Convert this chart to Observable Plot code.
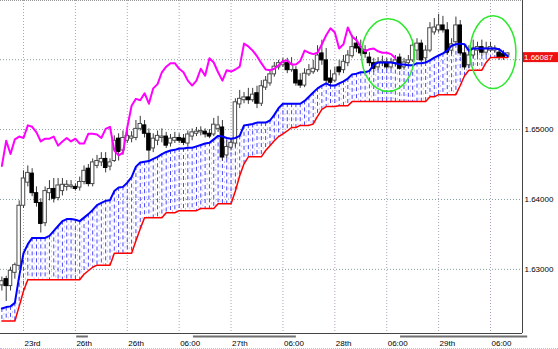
<!DOCTYPE html>
<html><head><meta charset="utf-8">
<script src="https://cdn.jsdelivr.net/npm/d3@7"></script>
<script src="https://cdn.jsdelivr.net/npm/@observablehq/plot@0.6"></script>
<style>
html,body{margin:0;padding:0;background:#fff;}
#chart{width:558px;height:348px;border-bottom:1px dotted #c9b6e8;overflow:hidden;}
svg{display:block;}
</style></head><body><div id="chart"></div>
<script>
// OHLC per bar (bar index = position in array)
const opens = [1.6277,1.6286,1.6276,1.6295,1.6305,1.6391,1.6424,1.6437,1.6409,1.6395,
1.6366,1.6409,1.6415,1.6402,1.6412,1.6418,1.6418,1.6418,1.6417,1.6425,
1.6444,1.6422,1.6448,1.6453,1.6458,1.6447,1.6455,1.6487,1.6470,1.6484,
1.6487,1.6488,1.6501,1.6506,1.6494,1.6473,1.6484,1.6488,1.6490,1.6480,
1.6484,1.6488,1.6487,1.6480,1.6490,1.6494,1.6496,1.6497,1.6494,1.6493,
1.6501,1.6503,1.6463,1.6474,1.6480,1.6536,1.6542,1.6546,1.6542,1.6552,
1.6537,1.6560,1.6566,1.6579,1.6589,1.6592,1.6595,1.6585,1.6585,1.6570,
1.6563,1.6579,1.6582,1.6585,1.6609,1.6599,1.6573,1.6570,1.6589,1.6585,
1.6595,1.6605,1.6623,1.6618,1.6613,1.6603,1.6595,1.6589,1.6595,1.6596,
1.6589,1.6595,1.6603,1.6589,1.6595,1.6599,1.6613,1.6623,1.6602,1.6613,
1.6639,1.6642,1.6649,1.6642,1.6613,1.6625,1.6649,1.6609,1.6592,1.6606,
1.6613,1.6618,1.6610,1.6613,1.6613,1.6610,1.6608,1.6606];
const closes = [1.6283,1.6276,1.6298,1.6306,1.6391,1.6430,1.6438,1.6409,1.6395,1.6365,
1.6412,1.6415,1.6401,1.6420,1.6421,1.6421,1.6420,1.6415,1.6425,1.6441,
1.6422,1.6453,1.6455,1.6458,1.6445,1.6453,1.6484,1.6468,1.6488,1.6491,
1.6490,1.6501,1.6508,1.6494,1.6470,1.6487,1.6491,1.6490,1.6477,1.6487,
1.6488,1.6484,1.6481,1.6493,1.6496,1.6497,1.6498,1.6493,1.6490,1.6507,
1.6506,1.6460,1.6475,1.6481,1.6539,1.6544,1.6546,1.6542,1.6550,1.6537,
1.6562,1.6570,1.6579,1.6590,1.6595,1.6595,1.6585,1.6593,1.6566,1.6563,
1.6580,1.6585,1.6587,1.6606,1.6599,1.6570,1.6567,1.6579,1.6582,1.6597,
1.6606,1.6618,1.6616,1.6609,1.6608,1.6595,1.6587,1.6596,1.6597,1.6589,
1.6596,1.6599,1.6587,1.6596,1.6599,1.6620,1.6623,1.6599,1.6613,1.6645,
1.6646,1.6649,1.6642,1.6610,1.6622,1.6649,1.6609,1.6589,1.6606,1.6616,
1.6618,1.6610,1.6616,1.6618,1.6616,1.6603,1.6603,1.6609];
const highs = [1.6289,1.6290,1.6303,1.6309,1.6398,1.6441,1.6448,1.6444,1.6418,1.6401,
1.6418,1.6427,1.6430,1.6430,1.6430,1.6427,1.6427,1.6422,1.6432,1.6448,
1.6450,1.6458,1.6463,1.6467,1.6467,1.6458,1.6491,1.6494,1.6498,1.6501,
1.6497,1.6513,1.6519,1.6513,1.6501,1.6494,1.6498,1.6501,1.6496,1.6493,
1.6496,1.6494,1.6493,1.6498,1.6501,1.6503,1.6504,1.6501,1.6500,1.6516,
1.6519,1.6513,1.6484,1.6487,1.6544,1.6556,1.6553,1.6559,1.6559,1.6562,
1.6570,1.6576,1.6585,1.6596,1.6599,1.6602,1.6602,1.6603,1.6590,1.6580,
1.6587,1.6593,1.6599,1.6620,1.6628,1.6616,1.6585,1.6589,1.6599,1.6606,
1.6613,1.6635,1.6633,1.6628,1.6620,1.6610,1.6602,1.6603,1.6605,1.6602,
1.6602,1.6606,1.6608,1.6602,1.6606,1.6628,1.6630,1.6628,1.6620,1.6653,
1.6659,1.6665,1.6662,1.6653,1.6630,1.6661,1.6656,1.6620,1.6620,1.6628,
1.6625,1.6628,1.6625,1.6625,1.6620,1.6616,1.6613,1.6610];
const lows = [1.6269,1.6254,1.6269,1.6286,1.6300,1.6387,1.6418,1.6404,1.6389,1.6352,
1.6361,1.6398,1.6395,1.6398,1.6405,1.6412,1.6415,1.6412,1.6412,1.6421,
1.6418,1.6418,1.6444,1.6447,1.6438,1.6441,1.6453,1.6455,1.6463,1.6480,
1.6481,1.6484,1.6498,1.6488,1.6455,1.6467,1.6477,1.6481,1.6473,1.6475,
1.6480,1.6480,1.6477,1.6475,1.6484,1.6490,1.6491,1.6488,1.6487,1.6490,
1.6496,1.6455,1.6458,1.6470,1.6475,1.6530,1.6537,1.6536,1.6539,1.6530,
1.6533,1.6556,1.6562,1.6575,1.6585,1.6589,1.6580,1.6582,1.6562,1.6559,
1.6560,1.6576,1.6579,1.6582,1.6592,1.6566,1.6563,1.6567,1.6577,1.6580,
1.6590,1.6602,1.6610,1.6605,1.6602,1.6590,1.6582,1.6585,1.6590,1.6586,
1.6586,1.6590,1.6585,1.6585,1.6590,1.6596,1.6599,1.6596,1.6596,1.6610,
1.6635,1.6638,1.6638,1.6606,1.6608,1.6622,1.6605,1.6585,1.6587,1.6602,
1.6606,1.6605,1.6606,1.6610,1.6609,1.6599,1.6599,1.6602];
// Blue cloud edge (Senkou Span A)
const spanA = [1.6244,1.6246,1.6247,1.6252,1.6290,1.6323,1.6336,1.6345,1.6345,1.6345,
1.6345,1.6348,1.6355,1.6362,1.6369,1.6372,1.6372,1.6371,1.6369,1.6374,
1.6379,1.6385,1.6392,1.6395,1.6398,1.6399,1.6412,1.6417,1.6418,1.6424,
1.6432,1.6447,1.6453,1.6454,1.6455,1.6458,1.6461,1.6465,1.6468,1.6470,
1.6471,1.6473,1.6473,1.6474,1.6474,1.6476,1.6478,1.6480,1.6481,1.6486,
1.6491,1.6490,1.6488,1.6487,1.6488,1.6491,1.6506,1.6507,1.6508,1.6510,
1.6510,1.6510,1.6513,1.6521,1.6531,1.6537,1.6537,1.6537,1.6537,1.6537,
1.6541,1.6547,1.6553,1.6559,1.6563,1.6566,1.6563,1.6563,1.6566,1.6569,
1.6573,1.6579,1.6580,1.6582,1.6582,1.6584,1.6593,1.6596,1.6596,1.6596,
1.6596,1.6595,1.6593,1.6593,1.6592,1.6592,1.6595,1.6595,1.6596,1.6599,
1.6603,1.6606,1.6609,1.6613,1.6620,1.6622,1.6623,1.6622,1.6613,1.6616,
1.6616,1.6616,1.6616,1.6616,1.6616,1.6615,1.6610,1.6605];
// Red cloud edge (Senkou Span B)
const spanB = [1.6226,1.6226,1.6226,1.6226,1.6247,1.6269,1.6285,1.6285,1.6285,1.6285,
1.6285,1.6285,1.6285,1.6285,1.6285,1.6285,1.6285,1.6285,1.6285,1.6293,
1.6298,1.6303,1.6306,1.6306,1.6306,1.6306,1.6323,1.6323,1.6323,1.6323,
1.6323,1.6341,1.6358,1.6374,1.6374,1.6374,1.6374,1.6374,1.6381,1.6381,
1.6381,1.6384,1.6384,1.6384,1.6384,1.6384,1.6387,1.6387,1.6387,1.6387,
1.6394,1.6394,1.6394,1.6394,1.6412,1.6434,1.6451,1.6461,1.6461,1.6461,
1.6461,1.6470,1.6477,1.6484,1.6490,1.6494,1.6498,1.6503,1.6503,1.6506,
1.6506,1.6506,1.6508,1.6519,1.6529,1.6533,1.6533,1.6533,1.6534,1.6534,
1.6534,1.6540,1.6540,1.6540,1.6540,1.6540,1.6540,1.6540,1.6540,1.6540,
1.6540,1.6540,1.6540,1.6540,1.6540,1.6540,1.6540,1.6540,1.6540,1.6547,
1.6547,1.6550,1.6550,1.6550,1.6550,1.6550,1.6563,1.6577,1.6585,1.6585,
1.6585,1.6585,1.6596,1.6603,1.6603,1.6603,1.6603,1.6603];
// Magenta lagging line (Chikou Span)
const chikou = [1.6448,1.6484,1.6465,1.6486,1.6490,1.6488,1.6506,1.6504,1.6496,1.6483,
1.6487,1.6487,1.6490,1.6477,1.6483,1.6488,1.6483,1.6487,1.6480,1.6480,
1.6494,1.6494,1.6493,1.6488,1.6501,1.6504,1.6470,1.6463,1.6467,1.6503,
1.6534,1.6544,1.6542,1.6552,1.6537,1.6559,1.6565,1.6582,1.6590,1.6595,
1.6595,1.6587,1.6582,1.6570,1.6563,1.6570,1.6587,1.6577,1.6602,1.6596,
1.6582,1.6570,1.6585,1.6583,1.6586,1.6590,1.6623,1.6619,1.6613,1.6605,
1.6595,1.6586,1.6585,1.6587,1.6592,1.6598,1.6599,1.6593,1.6593,1.6598,
1.6613,1.6610,1.6608,1.6610,1.6622,1.6635,1.6645,1.6639,1.6616,1.6622,
1.6646,1.6633,1.6628,1.6618,1.6612,1.6615,1.6616,1.6612,1.6610,1.6610,
1.6608,1.6602];
const xTickBars = [5,17,29,41,53,65,77,89,101,113];
const xTickLabels = ["23rd","26th","26th","06:00","27th","06:00","28th","06:00","29th","06:00"];
const yGrid = [1.63,1.64,1.65,1.66];
const yLabels = [1.63,1.64,1.65];
const lastPrice = 1.66087;
const circleCenters = [{bar:89.4, price:1.6606, rBars:6.1, rPrice:0.0052},{bar:113.7, price:1.6610, rBars:5.3, rPrice:0.0052}];
const scrollMarks = [{x1:17.3,x2:20.0},{x1:44.3,x2:68.1},{x1:92.2,x2:121.6}];

const X0 = -0.32, X1 = 120.4, Y0 = 1.62082, Y1 = 1.66847;
const FONT = "'Liberation Sans', Arial, sans-serif";
const bars = opens.map((o,i)=>({i, o, c:closes[i], h:highs[i], l:lows[i]}));
const cloud = spanA.map((a,i)=>({i, a, b:spanB[i]}));
const lag = chikou.map((v,i)=>({i, v}));
const ticks = xTickBars.map((b,k)=>({b, label:xTickLabels[k]}));
const up = bars.filter(d=>d.c>=d.o), down = bars.filter(d=>d.c<d.o);

const chart = Plot.plot({
  width:558, height:348, marginLeft:0, marginRight:36, marginTop:0, marginBottom:15,
  x:{domain:[X0,X1], axis:null},
  y:{domain:[Y0,Y1], axis:null},
  style:{background:"#fff", fontFamily:FONT, fontSize:"8px", overflow:"visible"},
  marks:[
    Plot.ruleY(yGrid, {stroke:"#88a0a0", strokeDasharray:"1,2"}),
    Plot.ruleX(xTickBars, {stroke:"#b0a0bc", strokeDasharray:"1,2"}),
    Plot.ruleY([Y1], {stroke:"#999", strokeDasharray:"1,1"}),
    Plot.ruleX(cloud, {x:"i", y1:"a", y2:"b", stroke:"#4646ff", strokeDasharray:"4,3"}),
    Plot.ruleX(cloud, {x:"i", y1:"a", y2:"b", dx:2, stroke:"#cdc4f7", strokeDasharray:"2,3"}),
    Plot.ruleX(bars, {x:"i", y1:"l", y2:"h", stroke:"#3a3a3a"}),
    Plot.rect(up, {x1:d=>d.i-0.4, x2:d=>d.i+0.4, y1:"o", y2:"c", fill:"#fff", stroke:"#4a4a4a"}),
    Plot.rect(down, {x1:d=>d.i-0.4, x2:d=>d.i+0.4, y1:"o", y2:"c", fill:"#000", stroke:"#000"}),
    Plot.line(cloud, {x:"i", y:"b", stroke:"#ff0000", strokeWidth:1.5}),
    Plot.line(cloud, {x:"i", y:"a", stroke:"#0000ff", strokeWidth:2}),
    Plot.line(lag, {x:"i", y:"v", stroke:"#ff00ff", strokeWidth:2}),
    Plot.ruleX([X1], {stroke:"#444"}),
    Plot.ruleY([Y0], {stroke:"#444"}),
    Plot.ruleY(scrollMarks, {x1:"x1", x2:"x2", y:()=>Y0, dy:3, stroke:"#707070", strokeWidth:2}),
    Plot.text(yLabels, {x:()=>X1, y:d=>d, text:d=>d.toFixed(5), textAnchor:"start", dx:2, fill:"#000", fontSize:8}),
    Plot.text(ticks, {x:"b", y:()=>Y0, text:"label", textAnchor:"start", dx:1, dy:10, fill:"#000", fontSize:8})
  ]
});
document.getElementById("chart").appendChild(chart);

const xs = chart.scale("x"), ys = chart.scale("y");
const svg = d3.select(chart);
circleCenters.forEach(c=>{
  const cx = xs.apply(c.bar), cy = ys.apply(c.price);
  svg.append("ellipse").attr("cx",cx).attr("cy",cy)
    .attr("rx", xs.apply(c.bar + c.rBars) - cx)
    .attr("ry", ys.apply(c.price - c.rPrice) - cy)
    .attr("fill","none").attr("stroke","#2ee82e").attr("stroke-width",1.5);
});
const lx = xs.apply(X1), ly = ys.apply(lastPrice) + 4;
svg.append("rect").attr("x", lx+1).attr("y", ly-5).attr("width", 35).attr("height", 10).attr("fill", "#ee1111");
svg.append("text").attr("x", lx+2).attr("y", ly).attr("dy","0.32em")
  .attr("font-size", 8).attr("font-family", FONT)
  .attr("fill", "#ffffff").attr("text-anchor","start").text(lastPrice.toFixed(5));
</script>
</body></html>
